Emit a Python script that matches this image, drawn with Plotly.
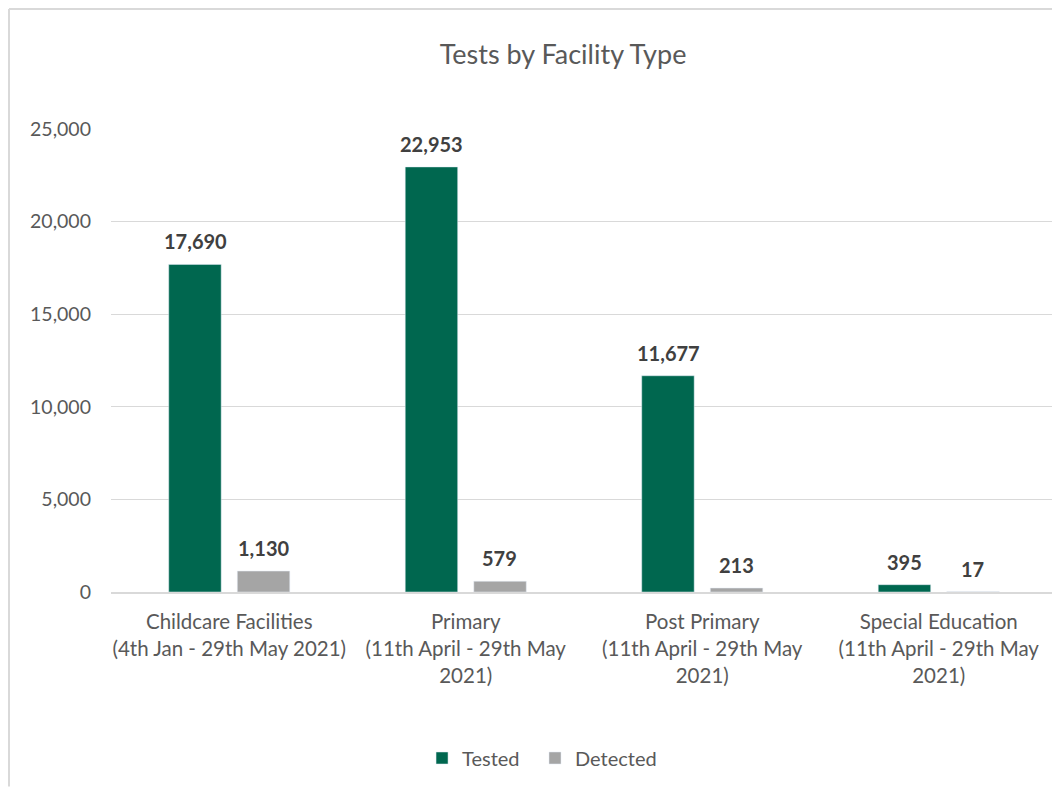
import plotly.graph_objects as go

categories = [
    "Childcare Facilities<br>(4th Jan - 29th May 2021)",
    "Primary<br>(11th April - 29th May<br>2021)",
    "Post Primary<br>(11th April - 29th May<br>2021)",
    "Special Education<br>(11th April - 29th May<br>2021)",
]
tested = [17690, 22953, 11677, 395]
detected = [1130, 579, 213, 17]
y_ticks = [0, 5000, 10000, 15000, 20000, 25000]
y_tick_labels = ["0", "5,000", "10,000", "15,000", "20,000", "25,000"]

FONT = "Lato, Open Sans, sans-serif"
GREEN = "#00674F"
GREY = "#A5A5A5"

fig = go.Figure()
fig.add_trace(go.Bar(name="Tested", x=categories, y=tested, marker_color=GREEN, legend="legend"))
fig.add_trace(go.Bar(name="Detected", x=categories, y=detected, marker_color=GREY, legend="legend2"))

# data labels above bars
for series, shift in ((tested, -34), (detected, 34)):
    for cat, v in zip(categories, series):
        fig.add_annotation(x=cat, y=v, xref="x", yref="y", text=f"<b>{v:,}</b>",
                           showarrow=False, xshift=shift, yanchor="bottom", yshift=9,
                           font=dict(family=FONT, size=20, color="#404040"))

legend_style = dict(orientation="h", xanchor="left", y=-0.3585, yanchor="middle",
                    font=dict(family=FONT, size=20, color="#595959"), itemwidth=30,
                    bgcolor="rgba(0,0,0,0)")

fig.update_layout(
    width=1052, height=781,
    paper_bgcolor="white", plot_bgcolor="white",
    margin=dict(l=103, r=3, t=121, b=197),
    barmode="group", bargap=0.42, bargroupgap=0.235,
    title=dict(text="Tests by Facility Type", x=0.5276, xanchor="center", y=0.94, yanchor="middle",
               font=dict(family=FONT, size=27, color="#595959")),
    font=dict(family=FONT, size=19, color="#595959"),
    legend=dict(x=0.3288, **legend_style),
    legend2=dict(x=0.4482, **legend_style),
    showlegend=True,
)
fig.update_yaxes(range=[0, 25000], tickvals=y_ticks, ticktext=y_tick_labels,
                 showgrid=True, gridcolor="#D9D9D9", gridwidth=1.3, zeroline=False,
                 showline=False, ticks="", ticklabelstandoff=19,
                 tickfont=dict(family=FONT, size=19.5, color="#595959"))
fig.update_xaxes(showline=True, linecolor="#D9D9D9", linewidth=1.5, ticks="",
                 ticklabelstandoff=11,
                 tickfont=dict(family=FONT, size=20.5, color="#595959"))

# chart border (left and top visible)
fig.add_shape(type="line", xref="paper", yref="paper", x0=-0.1078, x1=-0.1078, y0=-0.42, y1=1.2592,
              line=dict(color="#D9D9D9", width=2))
fig.add_shape(type="line", xref="paper", yref="paper", x0=-0.1078, x1=1.01, y0=1.2592, y1=1.2592,
              line=dict(color="#D9D9D9", width=2))

fig.write_html("out.html")
